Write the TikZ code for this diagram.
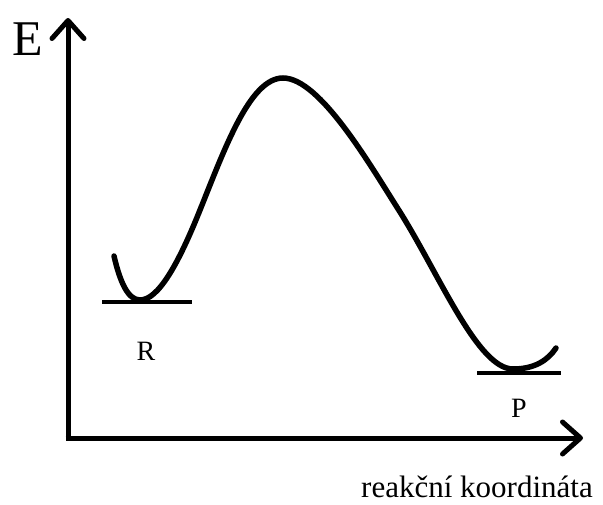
\documentclass[tikz,border=0pt]{standalone}
\usepackage{fontspec}
\setmainfont{Liberation Serif}
\usetikzlibrary{arrows.meta}
\begin{document}
\begin{tikzpicture}[x=1pt,y=-1pt,
  axis/.style={line width=5pt,-{Straight Barb[length=18pt,width=32pt,line cap=round,line join=round]}},
  curve/.style={line width=5.5pt,line cap=round},
  level/.style={line width=4pt},
  lbl/.style={inner sep=0pt,font=\fontsize{28}{30}\selectfont}]
\useasboundingbox (0,0) rectangle (603,504);
\coordinate (O) at (68,438);
\coordinate (Ytop) at (68,18);
\coordinate (Xend) at (583,438);
\draw[axis] ([yshift=2.5pt]O) -- (Ytop);
\draw[axis] ([xshift=-2.5pt]O) -- (Xend);
\node[inner sep=0pt,font=\fontsize{50}{52}\selectfont] (E) at (28,39) {E};
\node[inner sep=0pt,font=\fontsize{31}{33}\selectfont] (xl) at (477,487) {reakční koordináta};
\coordinate (c0) at (114,256);
\coordinate (c1) at (140,300);
\coordinate (c2) at (200,210);
\coordinate (c3) at (283,78);
\coordinate (c4) at (400,212);
\coordinate (c5) at (513,369);
\coordinate (c6) at (556,348);
\draw[curve] (c0) .. controls (120,282) and (128,300) .. (c1)
  .. controls (158,300) and (178,265) .. (c2)
  .. controls (225,148) and (250,78) .. (c3)
  .. controls (320,78) and (370,165) .. (c4)
  .. controls (440,276) and (478,369) .. (c5)
  .. controls (535,369) and (548,360) .. (c6);
\coordinate (Ra) at (102,302);
\coordinate (Rb) at (192,302);
\coordinate (Pa) at (477,373);
\coordinate (Pb) at (561,373);
\draw[level] (Ra) -- (Rb);
\draw[level] (Pa) -- (Pb);
\node[lbl] (R) at (146,351) {R};
\node[lbl] (P) at (519,408) {P};
\end{tikzpicture}
\end{document}
